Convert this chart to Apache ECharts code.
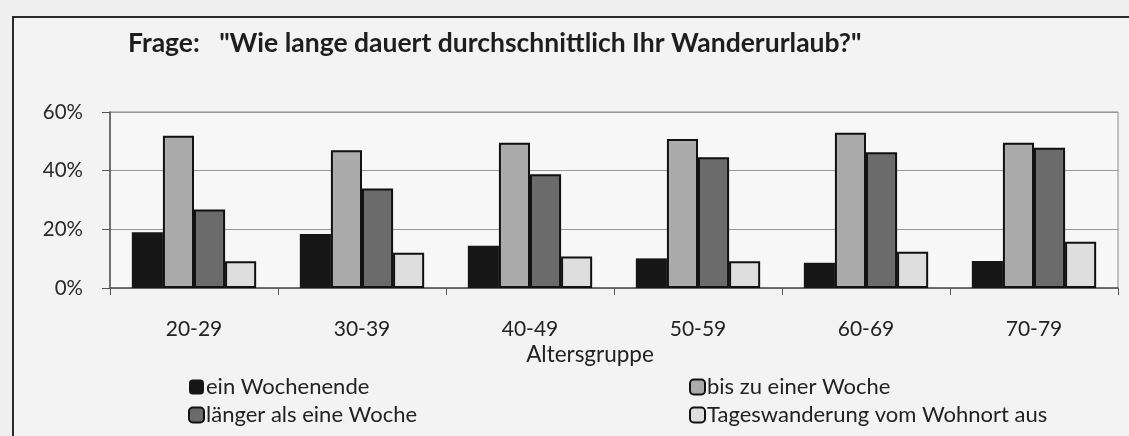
<!DOCTYPE html>
<html>
<head>
<meta charset="utf-8">
<script src="https://cdn.jsdelivr.net/npm/echarts@6/dist/echarts.min.js"></script>
<style>
  html, body { margin: 0; padding: 0; background: #efefef; }
  #chart { width: 1129px; height: 436px; }
</style>
</head>
<body>
<div id="chart"></div>
<script>
// ---- data ----
const categories = ['20-29', '30-39', '40-49', '50-59', '60-69', '70-79'];
const seriesNames = ['ein Wochenende', 'bis zu einer Woche', 'länger als eine Woche', 'Tageswanderung vom Wohnort aus'];
const einWochenende = [19.0, 18.4, 14.4, 10.1, 8.6, 9.2];
const bisZuEinerWoche = [51.9, 47.0, 49.5, 50.8, 52.9, 49.5];
const laengerAlsEineWoche = [26.8, 33.9, 38.8, 44.6, 46.3, 47.8];
const tageswanderung = [9.1, 12.0, 10.7, 9.1, 12.4, 15.8];
const yTicks = [0, 20, 40, 60];

const FONT = 'Lato, "Open Sans", "Noto Sans", sans-serif';
const fills = ['#161616', '#ababab', '#6b6b6b', '#dedede'];
const values = [einWochenende, bisZuEinerWoche, laengerAlsEineWoche, tageswanderung];

const chart = echarts.init(document.getElementById('chart'));
chart.setOption({
  backgroundColor: '#efefef',
  animation: false,
  title: {
    text: 'Frage:   "Wie lange dauert durchschnittlich Ihr Wanderurlaub?"',
    left: 123, top: 25,
    textStyle: { fontFamily: FONT, fontSize: 26.5, fontWeight: 'bold', color: '#1e1e1e' }
  },
  graphic: [
    { type: 'rect', silent: true, z: -1, shape: { x: 13, y: 17, width: 1200, height: 500 },
      style: { fill: '#f3f3f3', stroke: '#2a2a2a', lineWidth: 2 } }
  ],
  legend: [
    { left: 183, top: 371, orient: 'vertical', itemGap: 6, itemWidth: 15, itemHeight: 15,
      data: [seriesNames[0], seriesNames[2]],
      textStyle: { fontFamily: FONT, fontSize: 22, color: '#222', padding: [0, 0, 0, -3] } },
    { left: 684, top: 371, orient: 'vertical', itemGap: 6, itemWidth: 15, itemHeight: 15,
      data: [seriesNames[1], seriesNames[3]],
      textStyle: { fontFamily: FONT, fontSize: 22, color: '#222', padding: [0, 0, 0, -3] } }
  ],
  grid: { left: 110, right: 11, top: 112, bottom: 148, show: true, borderColor: '#8a8a8a', borderWidth: 1, backgroundColor: '#f7f7f7' },
  xAxis: {
    type: 'category', data: categories,
    name: 'Altersgruppe', nameLocation: 'middle', nameGap: 55,
    nameTextStyle: { fontFamily: FONT, fontSize: 22.5, color: '#222', padding: [0, 48, 0, 0] },
    axisLine: { lineStyle: { color: '#555', width: 1.5 } },
    axisTick: { show: true, length: 7, lineStyle: { color: '#555' } },
    axisLabel: { margin: 31, fontFamily: FONT, fontSize: 21, color: '#222' }
  },
  yAxis: {
    type: 'value', min: yTicks[0], max: yTicks[yTicks.length - 1], interval: 20,
    axisLine: { show: true, lineStyle: { color: '#555', width: 1.5 } },
    axisTick: { show: true, length: 8, lineStyle: { color: '#555' } },
    axisLabel: { margin: 27, formatter: '{value}%', fontFamily: FONT, fontSize: 20.5, color: '#2a2a2a' },
    splitLine: { lineStyle: { color: '#9a9a9a', width: 1 } }
  },
  series: values.map((v, i) => ({
    name: seriesNames[i], type: 'bar', data: v,
    barGap: '0%', barCategoryGap: '26%',
    itemStyle: { color: fills[i], borderColor: '#111', borderWidth: i === 0 ? 0 : 2 }
  }))
});
</script>
</body>
</html>
